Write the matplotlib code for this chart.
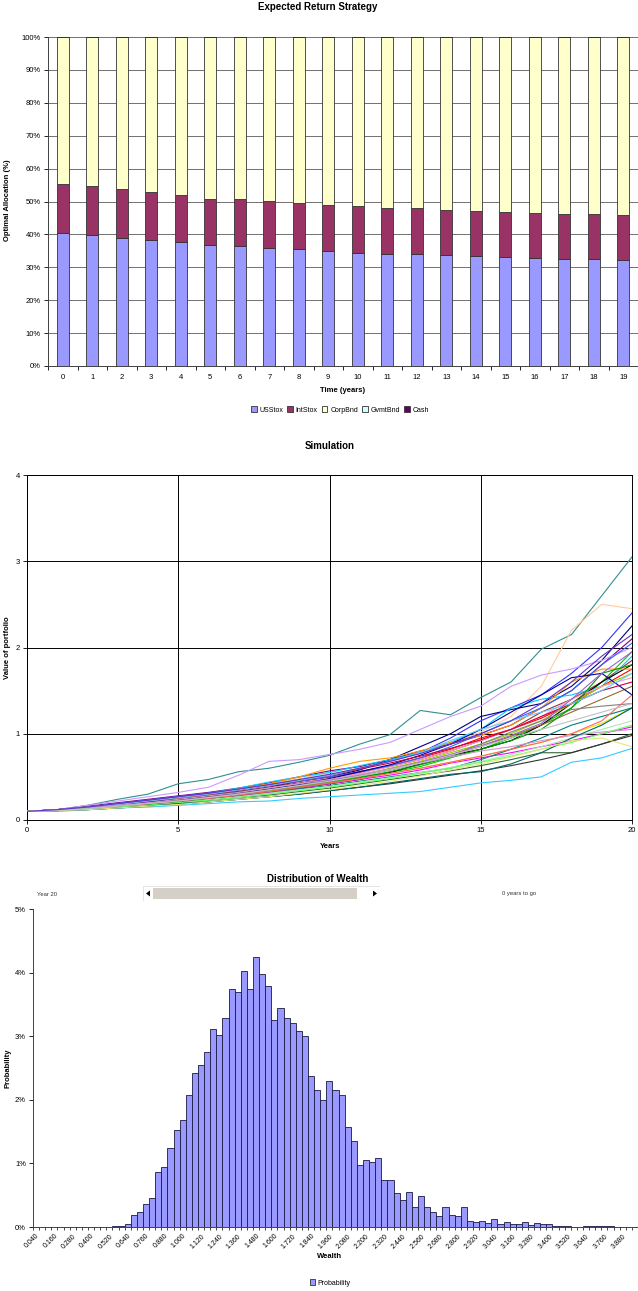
import numpy as np
import matplotlib
matplotlib.use("Agg")
import matplotlib.pyplot as plt
from matplotlib.patches import Patch, Rectangle, Polygon

plt.rcParams['font.family'] = ['Liberation Sans', 'DejaVu Sans']

# ---- allocation data (percent) ----
years = list(range(20))
us_stox = [40.5, 39.9, 39.0, 38.3, 37.6, 36.7, 36.5, 36.0, 35.5, 35.1,
           34.4, 34.1, 33.9, 33.6, 33.3, 33.1, 32.8, 32.4, 32.5, 32.3]
stox_top = [55.4, 54.7, 53.7, 52.8, 51.9, 50.9, 50.7, 50.1, 49.6, 49.0,
            48.5, 48.1, 47.9, 47.5, 47.2, 46.9, 46.6, 46.2, 46.2, 45.9]
int_stox = [t - u for t, u in zip(stox_top, us_stox)]
corp_bnd = [100 - t for t in stox_top]
gvmt_bnd = [0] * 20
cash = [0] * 20
asset_names = ['USStox', 'IntStox', 'CorpBnd', 'GvmtBnd', 'Cash']
asset_colors = ['#9999FF', '#993366', '#FFFFCC', '#CCFFFF', '#660066']

# ---- simulated paths (value at each year 0..20) ----
sim_years = list(range(21))
paths = [
    ('#2F8F8F', [0.10,0.12,0.17,0.24,0.30,0.42,0.47,0.56,0.60,0.67,0.75,0.88,0.99,1.27,1.22,1.42,1.60,1.98,2.15,2.60,3.05]),
    ('#FFCC99', [0.10,0.11,0.15,0.19,0.23,0.27,0.31,0.36,0.42,0.48,0.55,0.62,0.70,0.78,0.88,1.02,1.20,1.55,2.20,2.50,2.45]),
    ('#3333FF', [0.10,0.12,0.15,0.19,0.22,0.26,0.30,0.35,0.41,0.46,0.52,0.60,0.68,0.78,0.95,1.15,1.30,1.45,1.70,2.00,2.40]),
    ('#000080', [0.10,0.11,0.14,0.18,0.22,0.25,0.29,0.33,0.38,0.45,0.50,0.58,0.70,0.85,1.00,1.20,1.28,1.35,1.55,1.85,2.25]),
    ('#800080', [0.10,0.12,0.16,0.20,0.24,0.28,0.32,0.37,0.43,0.50,0.57,0.62,0.70,0.80,0.88,0.98,1.10,1.30,1.50,1.80,2.10]),
    ('#CC99FF', [0.10,0.12,0.17,0.22,0.27,0.32,0.38,0.52,0.68,0.70,0.76,0.82,0.90,1.05,1.20,1.32,1.55,1.68,1.75,1.85,2.00]),
    ('#00CC00', [0.10,0.11,0.13,0.16,0.19,0.22,0.26,0.30,0.34,0.39,0.44,0.50,0.55,0.62,0.72,0.82,0.95,1.10,1.30,1.60,1.95]),
    ('#993333', [0.10,0.11,0.14,0.17,0.21,0.25,0.29,0.33,0.38,0.43,0.48,0.55,0.62,0.70,0.80,0.92,1.05,1.25,1.40,1.60,1.85]),
    ('#00CCFF', [0.10,0.12,0.15,0.19,0.23,0.27,0.31,0.37,0.44,0.50,0.55,0.63,0.70,0.78,0.90,1.05,1.30,1.40,1.45,1.55,1.90]),
    ('#000000', [0.10,0.11,0.13,0.16,0.19,0.22,0.25,0.29,0.33,0.37,0.42,0.47,0.55,0.65,0.75,0.82,0.92,1.10,1.35,1.60,1.80]),
    ('#FF0000', [0.10,0.12,0.15,0.18,0.22,0.26,0.30,0.35,0.40,0.45,0.50,0.56,0.63,0.72,0.82,0.95,1.05,1.18,1.35,1.55,1.75]),
    ('#FF9900', [0.10,0.11,0.14,0.17,0.21,0.25,0.30,0.36,0.42,0.50,0.60,0.68,0.72,0.80,0.90,0.98,1.10,1.30,1.60,1.75,1.75]),
    ('#FF00FF', [0.10,0.11,0.13,0.15,0.18,0.21,0.24,0.28,0.32,0.37,0.42,0.47,0.52,0.58,0.66,0.72,0.78,0.85,0.92,1.00,1.08]),
    ('#E6E600', [0.10,0.11,0.13,0.16,0.19,0.22,0.26,0.30,0.34,0.38,0.43,0.48,0.54,0.60,0.67,0.74,0.82,0.90,1.00,1.12,1.30]),
    ('#008080', [0.10,0.11,0.13,0.15,0.18,0.20,0.23,0.27,0.31,0.36,0.40,0.45,0.50,0.55,0.60,0.70,0.82,0.95,1.10,1.20,1.30]),
    ('#336633', [0.10,0.11,0.13,0.15,0.17,0.20,0.23,0.26,0.29,0.33,0.37,0.42,0.47,0.52,0.57,0.63,0.70,0.78,0.78,0.88,1.00]),
    ('#99CC00', [0.10,0.11,0.13,0.16,0.19,0.22,0.26,0.30,0.35,0.40,0.46,0.52,0.60,0.68,0.78,0.88,1.00,1.15,1.35,1.55,1.70]),
    ('#FF99CC', [0.10,0.12,0.14,0.17,0.20,0.24,0.28,0.32,0.37,0.42,0.48,0.54,0.62,0.70,0.80,0.92,1.05,1.20,1.40,1.55,1.65]),
    ('#996633', [0.10,0.11,0.14,0.17,0.20,0.24,0.27,0.31,0.35,0.40,0.45,0.51,0.58,0.66,0.75,0.85,0.97,1.10,1.25,1.40,1.55]),
    ('#808080', [0.10,0.11,0.13,0.16,0.19,0.23,0.27,0.31,0.36,0.41,0.46,0.52,0.58,0.66,0.75,0.88,1.02,1.15,1.28,1.32,1.35]),
    ('#3366FF', [0.10,0.12,0.15,0.19,0.23,0.27,0.31,0.35,0.40,0.45,0.50,0.56,0.63,0.72,0.85,1.00,1.15,1.30,1.50,1.80,2.05]),
    ('#000099', [0.10,0.11,0.14,0.17,0.21,0.24,0.28,0.32,0.36,0.41,0.48,0.56,0.64,0.75,0.88,1.05,1.25,1.45,1.65,1.70,1.45]),
    ('#B3E6B3', [0.10,0.11,0.13,0.15,0.18,0.21,0.24,0.27,0.31,0.35,0.39,0.44,0.49,0.55,0.61,0.68,0.76,0.85,0.95,1.05,1.15]),
    ('#CC0033', [0.10,0.12,0.15,0.18,0.22,0.26,0.30,0.35,0.40,0.46,0.52,0.59,0.66,0.74,0.83,0.93,1.05,1.20,1.35,1.50,1.60]),
    ('#009900', [0.10,0.11,0.13,0.15,0.18,0.21,0.25,0.29,0.33,0.38,0.43,0.49,0.56,0.64,0.73,0.82,0.92,1.05,1.30,1.70,1.80]),
    ('#66CCFF', [0.10,0.12,0.15,0.18,0.22,0.26,0.30,0.35,0.40,0.46,0.52,0.60,0.68,0.78,0.92,1.05,1.15,1.25,1.35,1.50,1.70]),
    ('#9966CC', [0.10,0.11,0.13,0.16,0.19,0.22,0.26,0.30,0.35,0.40,0.46,0.52,0.59,0.67,0.76,0.86,0.98,1.12,1.40,1.70,1.95]),
    ('#333333', [0.10,0.11,0.12,0.14,0.16,0.18,0.21,0.24,0.27,0.30,0.34,0.38,0.42,0.47,0.52,0.57,0.63,0.70,0.78,0.88,0.98]),
    ('#FF6666', [0.10,0.11,0.13,0.16,0.19,0.22,0.25,0.29,0.33,0.38,0.43,0.48,0.54,0.60,0.67,0.74,0.82,0.90,1.00,1.15,1.45]),
    ('#CC99CC', [0.10,0.11,0.14,0.17,0.20,0.24,0.28,0.32,0.37,0.42,0.47,0.53,0.59,0.66,0.73,0.80,0.85,0.92,0.98,1.02,1.05]),
    ('#33CCFF', [0.10,0.10,0.12,0.14,0.15,0.17,0.19,0.21,0.22,0.25,0.27,0.29,0.31,0.33,0.38,0.43,0.46,0.50,0.67,0.72,0.83]),
    ('#66FF66', [0.10,0.11,0.13,0.15,0.17,0.20,0.23,0.26,0.30,0.34,0.38,0.43,0.48,0.54,0.60,0.67,0.74,0.82,0.90,1.00,1.10]),
    ('#006666', [0.10,0.11,0.12,0.14,0.16,0.19,0.21,0.24,0.27,0.30,0.34,0.38,0.43,0.48,0.53,0.56,0.65,0.78,0.95,1.10,1.30]),
    ('#E6E680', [0.10,0.11,0.12,0.14,0.16,0.18,0.21,0.24,0.27,0.31,0.35,0.40,0.45,0.51,0.58,0.65,0.73,0.82,0.92,0.95,0.85]),
    ('#C0C0C0', [0.10,0.11,0.13,0.16,0.19,0.22,0.26,0.30,0.35,0.40,0.45,0.51,0.58,0.66,0.75,0.85,0.95,1.05,1.15,1.25,1.35]),
    ('#6633CC', [0.10,0.12,0.15,0.19,0.23,0.27,0.31,0.36,0.41,0.47,0.53,0.60,0.68,0.77,0.88,1.00,1.15,1.35,1.60,1.90,2.15]),
]

# ---- wealth distribution (percent per bin) ----
wealth_bins = [round(0.04 * (k + 1), 3) for k in range(99)]
probability = [0] * 13 + [
    0.01, 0.01, 0.04, 0.19, 0.24, 0.36, 0.45, 0.86, 0.94, 1.24,
    1.52, 1.68, 2.08, 2.42, 2.54, 2.75, 3.11, 3.02, 3.28, 3.75,
    3.69, 4.03, 3.75, 4.25, 3.98, 3.79, 3.25, 3.45, 3.28, 3.20,
    3.08, 3.01, 2.37, 2.16, 1.99, 2.30, 2.15, 2.08, 1.58, 1.35,
    0.97, 1.06, 1.02, 1.08, 0.74, 0.74, 0.54, 0.42, 0.55, 0.32,
    0.48, 0.32, 0.24, 0.17, 0.32, 0.19, 0.17, 0.32, 0.09, 0.08,
    0.09, 0.06, 0.12, 0.05, 0.08, 0.04, 0.04, 0.08, 0.03, 0.06,
    0.04, 0.04, 0.02, 0.02, 0.02, 0, 0, 0.02, 0.02, 0.02,
    0.02, 0.02, 0, 0, 0, 0]

W, H = 638, 1291
fig = plt.figure(figsize=(W / 100, H / 100), dpi=100)


def box(left, top, right, bottom):
    return [left / W, 1 - bottom / H, (right - left) / W, (bottom - top) / H]


TICK = 5.5
LAB = 5.5

# ================= top: allocation =================
ax1 = fig.add_axes(box(48, 37, 638, 366))
bottom = np.zeros(20)
for name, vals, col in zip(asset_names, [us_stox, int_stox, corp_bnd, gvmt_bnd, cash], asset_colors):
    ax1.bar(years, vals, width=0.42, bottom=bottom, color=col, edgecolor='#333333', linewidth=0.6, zorder=3)
    bottom += np.array(vals)
ax1.set_xlim(-0.5, 19.5)
ax1.set_ylim(0, 100)
ax1.set_yticks(range(0, 101, 10))
ax1.set_yticklabels([f'{v}%' for v in range(0, 101, 10)], fontsize=TICK)
ax1.set_xticks(years)
ax1.set_xticklabels([str(y) for y in years], fontsize=TICK)
ax1.set_xticks(np.arange(-0.5, 20, 1), minor=True)
ax1.tick_params(axis='x', which='major', length=0, pad=6)
ax1.tick_params(axis='x', which='minor', length=3, direction='out', width=0.6)
ax1.tick_params(axis='y', length=3, width=0.6, pad=2)
ax1.grid(axis='y', color='#707070', linewidth=0.7, zorder=0)
for s in ['top', 'right']:
    ax1.spines[s].set_visible(False)
for s in ['left', 'bottom']:
    ax1.spines[s].set_color('#404040')
    ax1.spines[s].set_linewidth(0.7)
fig.text(318 / W, 1 - 7 / H, 'Expected Return Strategy', ha='center', va='center', fontsize=7, fontweight='bold')
fig.text(8 / W, 1 - 200 / H, 'Optimal Allocation (%)', ha='center', va='center', rotation=90, fontsize=LAB, fontweight='bold')
fig.text(343 / W, 1 - 391 / H, 'Time (years)', ha='center', va='center', fontsize=LAB, fontweight='bold')
handles = [Patch(facecolor=c, edgecolor='#333333', linewidth=0.6) for c in asset_colors]
fig.legend(handles, asset_names, loc='center', bbox_to_anchor=(340 / W, 1 - 410 / H), ncol=5, frameon=False,
           fontsize=5, handlelength=0.8, handleheight=0.8, handletextpad=0.4, columnspacing=0.6)

# ================= middle: simulation =================
ax2 = fig.add_axes(box(27, 475, 632, 820))
for col, vals in paths:
    ax2.plot(sim_years, vals, color=col, linewidth=0.8, zorder=3)
ax2.set_xlim(0, 20)
ax2.set_ylim(0, 4)
ax2.set_xticks([0, 5, 10, 15, 20])
ax2.set_yticks([0, 1, 2, 3, 4])
ax2.tick_params(labelsize=TICK, length=3, width=0.6, pad=2)
ax2.grid(True, color='black', linewidth=0.7, zorder=1)
for s in ax2.spines.values():
    s.set_color('black')
    s.set_linewidth(0.7)
fig.text(330 / W, 1 - 446 / H, 'Simulation', ha='center', va='center', fontsize=7, fontweight='bold')
fig.text(8 / W, 1 - 648 / H, 'Value of portfolio', ha='center', va='center', rotation=90, fontsize=LAB, fontweight='bold')
fig.text(330 / W, 1 - 846 / H, 'Years', ha='center', va='center', fontsize=LAB, fontweight='bold')

# ================= bottom: distribution =================
ax3 = fig.add_axes(box(33, 909, 638, 1227))
idx = np.arange(len(wealth_bins))
ax3.bar(idx, probability, width=1.0, color='#9999FF', edgecolor='#1a1a40', linewidth=0.6, zorder=3)
ax3.set_xlim(-0.5, len(wealth_bins) - 0.5)
ax3.set_ylim(0, 5)
ax3.set_yticks(range(6))
ax3.set_yticklabels([f'{v}%' for v in range(6)], fontsize=TICK)
ax3.set_xticks(idx[::3])
ax3.set_xticklabels([f'{v:.3f}' for v in wealth_bins[::3]], fontsize=5, rotation=45, ha='right',
                    rotation_mode='anchor')
ax3.set_xticks(np.arange(-0.5, len(wealth_bins), 1), minor=True)
ax3.tick_params(axis='x', which='major', length=0, pad=4)
ax3.tick_params(axis='x', which='minor', length=2.5, width=0.5, direction='out')
ax3.tick_params(axis='y', length=3, width=0.6, pad=2)
for s in ['top', 'right']:
    ax3.spines[s].set_visible(False)
for s in ['left', 'bottom']:
    ax3.spines[s].set_color('#404040')
    ax3.spines[s].set_linewidth(0.7)
fig.text(318 / W, 1 - 879 / H, 'Distribution of Wealth', ha='center', va='center', fontsize=7, fontweight='bold')
fig.text(8 / W, 1 - 1068 / H, 'Probability', ha='center', va='center', rotation=90, fontsize=LAB, fontweight='bold')
fig.text(330 / W, 1 - 1256 / H, 'Wealth', ha='center', va='center', fontsize=LAB, fontweight='bold')
fig.legend([Patch(facecolor='#9999FF', edgecolor='#333333', linewidth=0.6)], ['Probability'], loc='center',
           bbox_to_anchor=(330 / W, 1 - 1283 / H), frameon=False, fontsize=5, handlelength=0.8,
           handleheight=0.8, handletextpad=0.3)

# scroll bar widget above the histogram
fig.text(37 / W, 1 - 894 / H, 'Year 20', ha='left', va='center', fontsize=4.2, color='#333333')
fig.text(502 / W, 1 - 894 / H, '0 years to go', ha='left', va='center', fontsize=4.2, color='#333333')
sb = fig.add_axes(box(143, 886, 380, 901))
sb.set_xlim(143, 380)
sb.set_ylim(901, 886)
sb.axis('off')
sb.add_patch(Rectangle((143, 886), 237, 15, facecolor='white', edgecolor='#E0E0E0', linewidth=0.6))
sb.add_patch(Rectangle((153, 888), 204, 11, facecolor='#D4D0C8', edgecolor='none'))
sb.add_patch(Polygon([(146, 893.5), (150, 890.5), (150, 896.5)], closed=True, facecolor='black'))
sb.add_patch(Polygon([(377, 893.5), (373, 890.5), (373, 896.5)], closed=True, facecolor='black'))

fig.savefig('out.png', dpi=100)
